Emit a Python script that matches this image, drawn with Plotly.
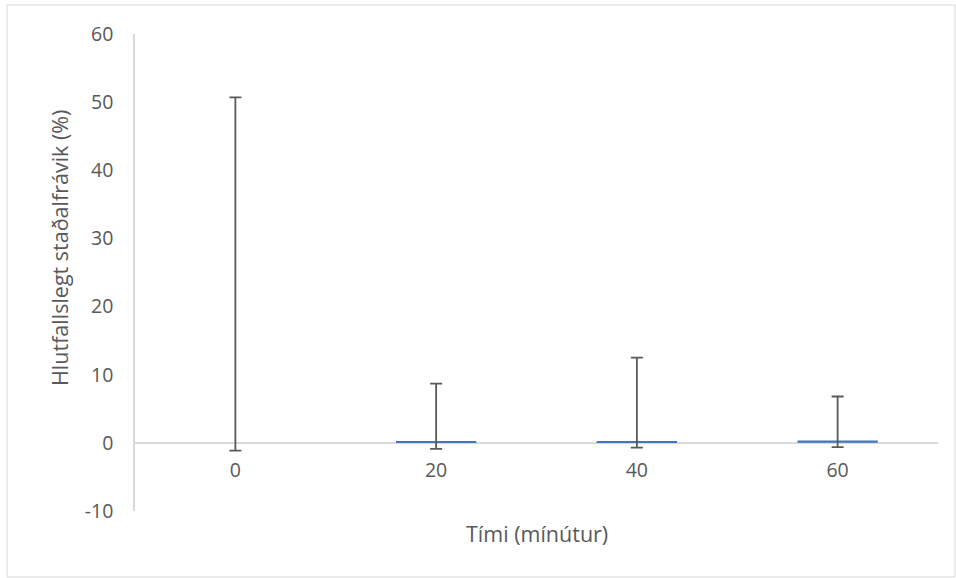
import plotly.graph_objects as go

categories = ["0", "20", "40", "60"]
values = [0.0, 0.16, 0.24, 0.33]
err_upper = [50.7, 8.54, 12.26, 6.47]
err_lower = [1.13, 1.04, 0.93, 0.95]
y_tick_vals = [-10, 0, 10, 20, 30, 40, 50, 60]
y_tick_text = ["-10", "0", "10", "20", "30", "40", "50", "60"]

W, H = 956, 578
ML, MR, MT, MB = 135, 18, 34, 67
PW, PH = W - ML - MR, H - MT - MB
TXT = "#595959"
FONT = "Open Sans"

fig = go.Figure()
fig.add_trace(go.Bar(
    x=categories, y=values,
    marker=dict(color="#4472C4", line=dict(width=0)),
    error_y=dict(type="data", symmetric=False, array=err_upper, arrayminus=err_lower,
                 color="#595959", thickness=1.8, width=6),
))

ymin, ymax = -10, 60
fig.update_layout(
    width=W, height=H,
    margin=dict(l=ML, r=MR, t=MT, b=MB),
    paper_bgcolor="white", plot_bgcolor="white",
    bargap=0.6, showlegend=False,
    font=dict(family=FONT, color=TXT, size=20),
    xaxis=dict(type="category", showgrid=False, showline=True, linecolor="#d9d9d9", linewidth=1.5,
               anchor="free", position=(0 - ymin) / (ymax - ymin), ticks="", zeroline=False,
               layer="below traces",
               tickfont=dict(size=19.5, color=TXT, family=FONT), ticklabelstandoff=10),
    yaxis=dict(range=[ymin, ymax], tickvals=y_tick_vals, ticktext=y_tick_text,
               showgrid=False, zeroline=False,
               showline=True, linecolor="#d9d9d9", linewidth=1.5, layer="below traces",
               tickfont=dict(size=19.5, color=TXT, family=FONT), ticks="", ticklabelstandoff=16),
    annotations=[
        dict(text="Hlutfallslegt staðalfrávik (%)", xref="paper", yref="paper",
             x=(59 - ML) / PW, y=(H - MB - 248) / PH, textangle=-90, showarrow=False,
             font=dict(size=21.5, color=TXT, family=FONT), xanchor="center", yanchor="middle"),
        dict(text="Tími (mínútur)", xref="paper", yref="paper",
             x=(537 - ML) / PW, y=(H - MB - 533) / PH, showarrow=False,
             font=dict(size=21.5, color=TXT, family=FONT), xanchor="center", yanchor="middle"),
    ],
    shapes=[dict(type="rect", xref="paper", yref="paper",
                 x0=(7 - ML) / PW, x1=(955 - ML) / PW,
                 y0=(H - MB - 577) / PH, y1=(H - MB - 5) / PH,
                 line=dict(color="#d9d9d9", width=1), layer="below")],
)

fig.write_html("out.html")
